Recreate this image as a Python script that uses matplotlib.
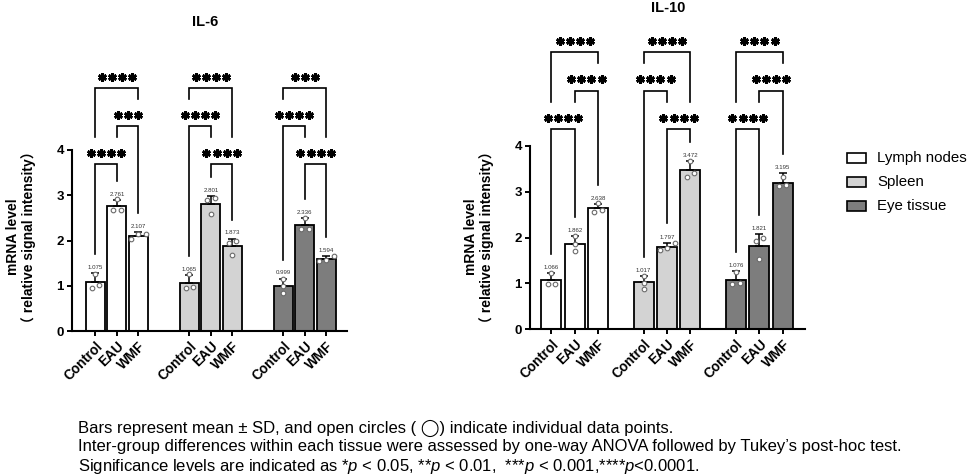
import numpy as np
import matplotlib
matplotlib.use('Agg')
import matplotlib.pyplot as plt
from matplotlib.patches import Rectangle
from matplotlib.transforms import offset_copy

plt.rcParams['font.family'] = ['Liberation Sans', 'DejaVu Sans', 'Noto Sans CJK SC']
plt.rcParams['mathtext.fontset'] = 'custom'
plt.rcParams['mathtext.it'] = 'Liberation Sans:italic'
plt.rcParams['mathtext.rm'] = 'Liberation Sans'

# ---------------- data ----------------
tissues = ['Lymph nodes', 'Spleen', 'Eye tissue']
groups = ['Control', 'EAU', 'WMF']
tissue_colors = ['#ffffff', '#d3d3d3', '#7d7d7d']

il6_mean = [[1.075, 2.761, 2.107], [1.065, 2.801, 1.873], [0.999, 2.336, 1.594]]
il6_sd = [[0.20, 0.13, 0.07], [0.17, 0.18, 0.17], [0.16, 0.17, 0.06]]
il6_points = [
    [[0.96, 1.01, 1.255], [2.68, 2.68, 2.92], [2.04, 2.14, 2.14]],
    [[0.96, 0.98, 1.255], [2.58, 2.93, 2.893], [1.67, 2.00, 1.95]],
    [[0.84, 1.00, 1.157], [2.26, 2.26, 2.488], [1.55, 1.58, 1.652]],
]
il6_sig = [
    [(0, 1, '****'), (1, 2, '***'), (0, 2, '****')],
    [(1, 2, '****'), (0, 1, '****'), (0, 2, '****')],
    [(1, 2, '****'), (0, 1, '****'), (0, 2, '***')],
]

il10_mean = [[1.066, 1.862, 2.638], [1.017, 1.797, 3.472], [1.076, 1.821, 3.195]]
il10_sd = [[0.15, 0.17, 0.10], [0.14, 0.09, 0.19], [0.19, 0.26, 0.21]]
il10_points = [
    [[0.98, 0.99, 1.23], [1.71, 1.85, 2.03], [2.56, 2.61, 2.745]],
    [[0.88, 1.01, 1.16], [1.72, 1.78, 1.89], [3.33, 3.42, 3.666]],
    [[0.98, 1.01, 1.24], [1.53, 1.93, 2.00], [3.12, 3.14, 3.325]],
]
il10_sig = [
    [(0, 1, '****'), (1, 2, '****'), (0, 2, '****')],
    [(1, 2, '****'), (0, 1, '****'), (0, 2, '****')],
    [(0, 1, '****'), (1, 2, '****'), (0, 2, '****')],
]

yticks = [0, 1, 2, 3, 4]
ylabel1 = 'mRNA level'
ylabel2 = '（ relative signal intensity）'
footnote = [
    'Bars represent mean ± SD, and open circles ( ◯) indicate individual data points.',
    'Inter-group differences within each tissue were assessed by one-way ANOVA followed by Tukey’s post-hoc test.',
    'Significance levels are indicated as *$p$ < 0.05, **$p$ < 0.01,  ***$p$ < 0.001,****$p$<0.0001.',
]

# ---------------- layout ----------------
W, H = 969, 476
fig = plt.figure(figsize=(W / 100, H / 100), dpi=100)


def make_axes(x0, x1, y0, ppu, ytop):
    return fig.add_axes([x0 / W, (H - y0) / H, (x1 - x0) / W, ytop * ppu / H])


def draw_panel(ax, title, tx, ty, means, sds, points, sigs, gstep, bw, xlim, ppux):
    ax.set_xlim(*xlim)
    ax.set_ylim(0, 7.0)
    for s in ['top', 'right']:
        ax.spines[s].set_visible(False)
    ax.spines['left'].set_bounds(0, 4)
    for s in ['left', 'bottom']:
        ax.spines[s].set_linewidth(1.5)
    ax.set_yticks(yticks)
    ax.set_yticklabels([str(t) for t in yticks], fontsize=9.5, fontweight='bold')
    ax.tick_params(axis='both', direction='out', length=3.8, width=1.4, pad=2)

    xt, xl = [], []
    sd_tops = []
    for g in range(3):
        xs = [g * gstep + i for i in range(3)]
        m = np.array(means[g]); sd = np.array(sds[g])
        ax.bar(xs, m, width=bw, color=tissue_colors[g], edgecolor='black',
               linewidth=1.3, zorder=2)
        ax.errorbar(xs, m, yerr=[np.zeros(3), sd], fmt='none', ecolor='black',
                    elinewidth=1.1, capsize=3.2, capthick=1.1, zorder=3)
        for i in range(3):
            vals = sorted(points[g][i])
            # simple swarm: cluster close values and spread them horizontally
            clusters = [[vals[0]]]
            for v in vals[1:]:
                if v - clusters[-1][-1] < 0.12:
                    clusters[-1].append(v)
                else:
                    clusters.append([v])
            for c in clusters:
                n = len(c)
                offs = (np.arange(n) - (n - 1) / 2) * 7.5 / ppux
                ax.scatter(xs[i] + offs, c, s=11, facecolor='white',
                           edgecolor='#6a6a6a', linewidth=0.8, zorder=4, clip_on=False)
            top = m[i] + sd[i]
            ax.annotate(f'{m[i]:.3f}', (xs[i], top), xytext=(0, 2.2),
                        textcoords='offset points', ha='center', va='bottom',
                        fontsize=4.4, color='#333333')
        sd_tops.append(m + sd)
        xt += xs; xl += groups
    ax.set_xticks(xt)
    ax.set_xticklabels(xl, rotation=45, ha='right', va='top', rotation_mode='anchor',
                       fontsize=9.8, fontweight='bold')

    base = max(np.max(t) for t in sd_tops) + 0.71
    step = 0.84
    for g in range(3):
        xs = [g * gstep + i for i in range(3)]
        levels = []
        for L, (i, j, lab) in enumerate(sigs[g]):
            h = base + L * step
            bottoms = []
            for k in (i, j):
                b = sd_tops[g][k] + 0.42
                for (li, lj, lh) in levels:
                    if li <= k <= lj:
                        b = max(b, lh + 0.6)
                b = min(b, h - 0.15)
                bottoms.append(b)
            ax.plot([xs[i], xs[i], xs[j], xs[j]], [bottoms[0], h, h, bottoms[1]],
                    color='black', lw=1.2, solid_joinstyle='miter', clip_on=False, zorder=3)
            levels.append((i, j, h))
            n = len(lab)
            xc = (xs[i] + xs[j]) / 2
            for s in range(n):
                tr = offset_copy(ax.transData, fig=fig,
                                 x=(s - (n - 1) / 2) * 7.3, y=8.0, units='points')
                ax.plot([xc], [h], marker=(6, 2, 0), markersize=6.2,
                        markeredgewidth=1.9, color='black', transform=tr,
                        clip_on=False, zorder=3)
    fig.text(tx / W, 1 - ty / H, title, ha='center', va='center',
             fontsize=10.5, fontweight='bold')


ax1 = make_axes(72, 347, 331, 45.25, 7.0)
draw_panel(ax1, 'IL-6', 205, 22, il6_mean, il6_sd, il6_points, il6_sig,
           4.37, 0.88, (-1.09, 11.70), 275 / 12.79)
ax2 = make_axes(530, 805, 329, 45.75, 7.0)
draw_panel(ax2, 'IL-10', 668, 8, il10_mean, il10_sd, il10_points, il10_sig,
           3.96, 0.86, (-0.92, 10.88), 275 / 11.80)

# y labels
for (xl1, xl2, yc) in [(13, 29, 237), (471, 487, 237)]:
    fig.text(xl1 / W, 1 - yc / H, ylabel1, rotation=90, ha='center', va='center',
             fontsize=10, fontweight='bold')
    fig.text(xl2 / W, 1 - yc / H, ylabel2, rotation=90, ha='center', va='center',
             fontsize=10, fontweight='bold',
             family=['Liberation Sans', 'Noto Sans CJK SC', 'DejaVu Sans'])

# legend
for k, (name, col) in enumerate(zip(tissues, tissue_colors)):
    yc = 158 + 24 * k
    fig.add_artist(Rectangle((847 / W, 1 - (yc + 5) / H), 19 / W, 10 / H,
                             transform=fig.transFigure, facecolor=col,
                             edgecolor='black', linewidth=1.2))
    fig.text(877 / W, 1 - yc / H, name, ha='left', va='center', fontsize=10.8)

# footnote
for k, line in enumerate(footnote):
    fig.text(78 / W, 1 - (428 + 19 * k) / H, line, ha='left', va='center', fontsize=12)

fig.savefig('out.png', dpi=100)
